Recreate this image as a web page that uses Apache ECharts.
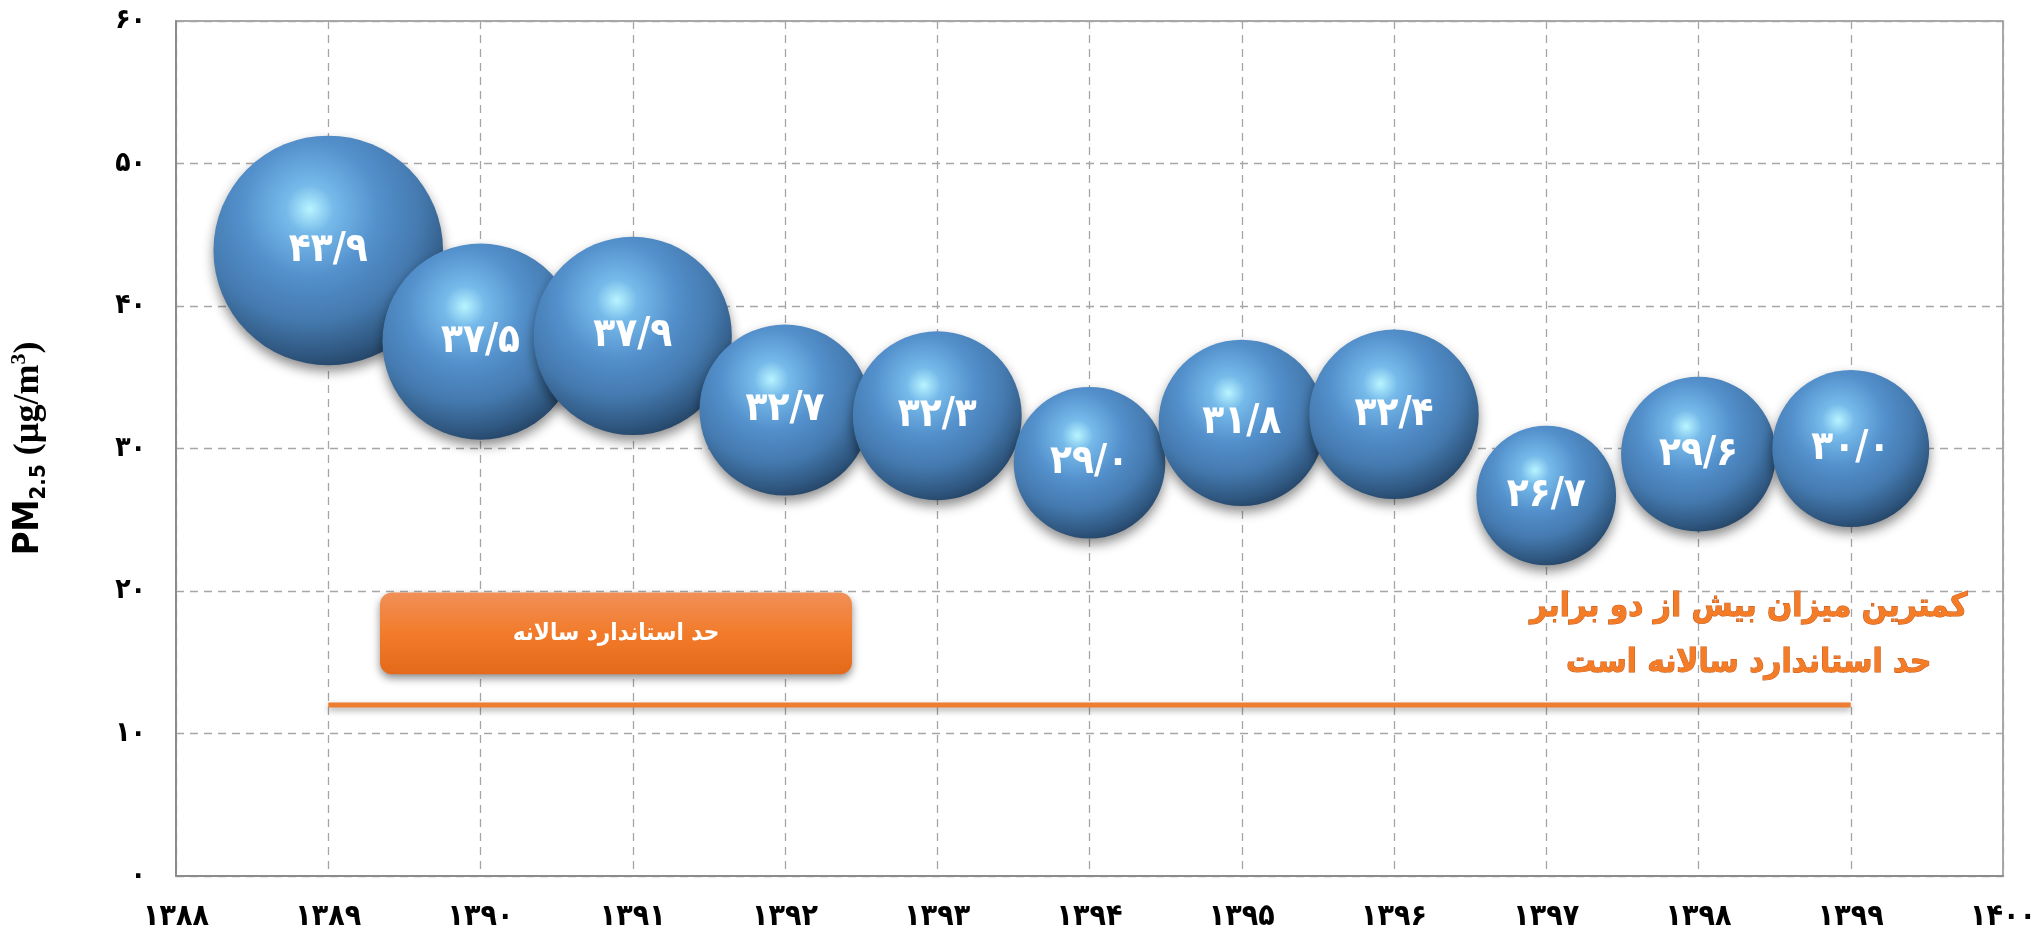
<!DOCTYPE html>
<html><head><meta charset="utf-8">
<script src="https://cdn.jsdelivr.net/npm/echarts@6/dist/echarts.min.js"></script>
<style>html,body{margin:0;padding:0;background:#fff}#c{width:2041px;height:936px}</style>
</head><body><div id="c"></div>
<script>
// ---- data ----
const years = [1389, 1390, 1391, 1392, 1393, 1394, 1395, 1396, 1397, 1398, 1399];
const pm25 = [43.9, 37.5, 37.9, 32.7, 32.3, 29.0, 31.8, 32.4, 26.7, 29.6, 30.0];
const xRange = [1388, 1400];
const yRange = [0, 60];
const standardValue = 12;
const standardYears = [1389, 1399];
const boxLabel = 'حد استاندارد سالانه';
const noteLines = ['کمترین میزان بیش از دو برابر', 'حد استاندارد سالانه است'];

const fa = s => String(s).replace(/\d/g, d => '۰۱۲۳۴۵۶۷۸۹'[d]);
const faNum = v => fa(v.toFixed(1)).replace('.', '/');

const FONT = '"DejaVu Sans Condensed", "DejaVu Sans", sans-serif';
const SERIF = '"Liberation Serif", "DejaVu Serif", serif';
const chart = echarts.init(document.getElementById('c'), null, {renderer: 'canvas'});

const sphere = new echarts.graphic.RadialGradient(0.42, 0.32, 0.74, [
  {offset: 0, color: '#b8f4ff'},
  {offset: 0.14, color: '#76baea'},
  {offset: 0.4, color: '#5390cc'},
  {offset: 0.66, color: '#4479ae'},
  {offset: 0.86, color: '#2f5780'},
  {offset: 1, color: '#1f3a58'}
]);

chart.setOption({
  animation: false,
  grid: {left: 176, right: 38, top: 21, bottom: 60, show: true, borderColor: '#8c8c8c', borderWidth: 1.5},
  xAxis: {
    type: 'value', min: xRange[0], max: xRange[1], interval: 1,
    axisLine: {show: true, lineStyle: {color: '#8c8c8c', width: 2}},
    axisTick: {show: false},
    splitLine: {show: true, lineStyle: {color: '#a6a6a6', type: [8, 6], width: 1.3}},
    axisLabel: {formatter: v => fa(v), color: '#000', fontFamily: FONT, fontWeight: 'bold', fontSize: 30, margin: 26}
  },
  yAxis: {
    type: 'value', min: yRange[0], max: yRange[1], interval: 10,
    axisLine: {show: true, lineStyle: {color: '#8c8c8c', width: 2}},
    axisTick: {show: false},
    splitLine: {show: true, lineStyle: {color: '#a6a6a6', type: [8, 6], width: 1.3}},
    axisLabel: {formatter: v => fa(v), color: '#000', fontFamily: FONT, fontWeight: 'bold', fontSize: 28, margin: 30},
    name: '{a|PM}{s|2.5}{b| (µg/m}{p|3}{b|)}',
    nameLocation: 'middle', nameRotate: 90, nameGap: 126,
    nameTextStyle: {
      rich: {
        a: {fontFamily: FONT, fontWeight: 'bold', fontSize: 36, color: '#000', verticalAlign: 'middle', lineHeight: 42},
        b: {fontFamily: SERIF, fontWeight: 'bold', fontSize: 36, color: '#000', verticalAlign: 'middle', lineHeight: 42},
        s: {fontFamily: FONT, fontWeight: 'bold', fontSize: 22, color: '#000', verticalAlign: 'bottom', lineHeight: 42, padding: [18, 0, 0, 0]},
        p: {fontFamily: SERIF, fontWeight: 'bold', fontSize: 22, color: '#000', verticalAlign: 'top', lineHeight: 42, padding: [0, 0, 16, 0]}
      }
    }
  },
  series: [
    {
      type: 'line',
      data: standardYears.map(x => [x, standardValue]),
      symbol: 'none',
      lineStyle: {color: '#ED7D31', width: 5, shadowColor: 'rgba(0,0,0,0.35)', shadowBlur: 6, shadowOffsetY: 3},
      z: 2
    },
    {
      type: 'scatter',
      data: years.map((y, i) => [y, pm25[i]]),
      symbolSize: v => v[1] * 5.23,
      itemStyle: {color: sphere, shadowColor: 'rgba(0,0,0,0.45)', shadowBlur: 12, shadowOffsetY: 6, opacity: 1},
      label: {show: true, position: 'inside', formatter: p => faNum(p.value[1]), color: '#fff',
        fontFamily: FONT, fontWeight: 'bold', fontSize: 40},
      z: 3
    }
  ]
});

function addGraphics() {
  const p1 = chart.convertToPixel({gridIndex: 0}, [1389.34, 19.9]);
  const p2 = chart.convertToPixel({gridIndex: 0}, [1392.44, 14.15]);
  const n = chart.convertToPixel({gridIndex: 0}, [1398.33, 16.85]);
  chart.setOption({
    graphic: [
      {
        type: 'group', left: p1[0], top: p1[1], z: 10,
        children: [
          {type: 'rect', shape: {x: 0, y: 0, width: p2[0] - p1[0], height: p2[1] - p1[1], r: 12},
            style: {fill: new echarts.graphic.LinearGradient(0, 0, 0, 1, [
              {offset: 0, color: '#F09058'}, {offset: 0.5, color: '#F27B2A'}, {offset: 1, color: '#E4691A'}]),
              shadowColor: 'rgba(0,0,0,0.45)', shadowBlur: 8, shadowOffsetY: 4}},
          {type: 'text', x: (p2[0] - p1[0]) / 2, y: (p2[1] - p1[1]) / 2,
            style: {text: boxLabel, fill: '#fff', font: 'bold 24px ' + FONT, align: 'center', verticalAlign: 'middle'}}
        ]
      },
      {
        type: 'text', x: n[0], y: n[1], z: 10,
        style: {text: noteLines.join('\n'), fill: '#F47C26', stroke: '#c5581a', lineWidth: 1,
          font: 'bold 33px ' + FONT, lineHeight: 56, align: 'center', verticalAlign: 'middle',
          shadowColor: 'rgba(0,0,0,0.35)', shadowBlur: 3, shadowOffsetX: 1, shadowOffsetY: 2}
      }
    ]
  });
}
addGraphics();
</script></body></html>
